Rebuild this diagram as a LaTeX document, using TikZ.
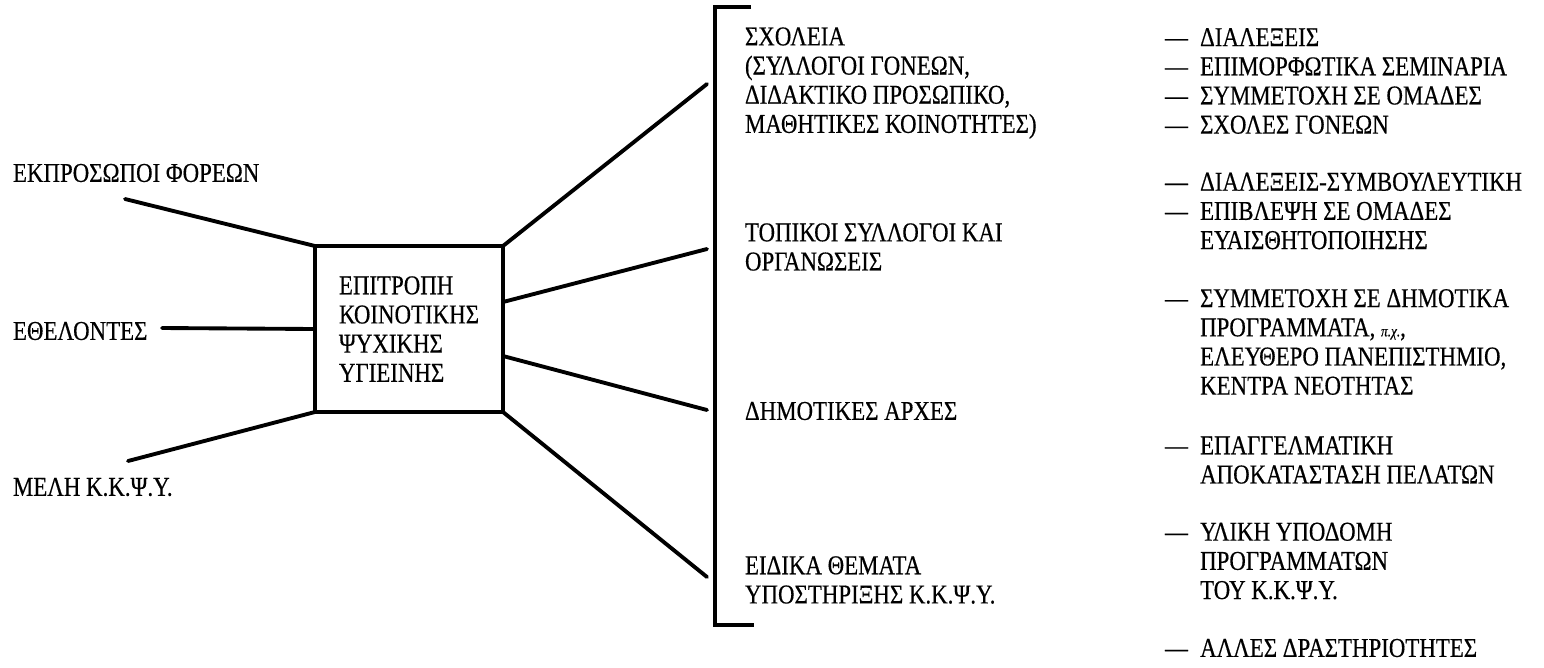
\documentclass[tikz,border=0pt]{standalone}
\usepackage{fontspec}
\setmainfont[FakeStretch=0.84,FakeBold=0.4]{Liberation Serif}
\usetikzlibrary{positioning}
\newcommand{\dsh}{—\hspace{0.45em}}
\newcommand{\ind}{\hphantom{\dsh}}

\begin{document}
\begin{tikzpicture}[x=0.02cm, y=-0.02cm,
  font=\fontsize{15.5pt}{16.6pt}\selectfont,
  lbl/.style={inner sep=0pt, outer sep=0pt, align=left, anchor=west},
  hubbox/.style={draw, line width=2pt, outer sep=0pt, align=left,
                 minimum width=3.76cm, minimum height=3.32cm},
  link/.style={line width=2.2pt, line cap=round},
  bracketline/.style={line width=1.8pt}
]
\useasboundingbox (0,0) rectangle (1544,667);
\node[hubbox] (hub) at (409,329) {ΕΠΙΤΡΟΠΗ\\ΚΟΙΝΟΤΙΚΗΣ\\ΨΥΧΙΚΗΣ\\ΥΓΙΕΙΝΗΣ};
\node[lbl] (reps)    at (13,173) {ΕΚΠΡΟΣΩΠΟΙ ΦΟΡΕΩΝ};
\node[lbl] (vols)    at (13,331) {ΕΘΕΛΟΝΤΕΣ};
\node[lbl] (members) at (13,487) {ΜΕΛΗ Κ.Κ.Ψ.Υ.};
\coordinate (repsend) at (125,199);
\coordinate (volsend) at (162,328);
\coordinate (membend) at (128,461);
\draw[link] (repsend) -- (hub.north west);
\draw[link] (volsend) -- (hub.west);
\draw[link] (membend) -- (hub.south west);
\draw[bracketline] (751,7) -- (715,7) -- (715,625) -- (754,625);
\node[lbl] (schools) at (745,83)  {ΣΧΟΛΕΙΑ\\(ΣΥΛΛΟΓΟΙ ΓΟΝΕΩΝ,\\ΔΙΔΑΚΤΙΚΟ ΠΡΟΣΩΠΙΚΟ,\\ΜΑΘΗΤΙΚΕΣ ΚΟΙΝΟΤΗΤΕΣ)};
\node[lbl] (locals)  at (745,247) {ΤΟΠΙΚΟΙ ΣΥΛΛΟΓΟΙ ΚΑΙ\\ΟΡΓΑΝΩΣΕΙΣ};
\node[lbl] (munic)   at (745,411) {ΔΗΜΟΤΙΚΕΣ ΑΡΧΕΣ};
\node[lbl] (special) at (745,580) {ΕΙΔΙΚΑ ΘΕΜΑΤΑ\\ΥΠΟΣΤΗΡΙΞΗΣ Κ.Κ.Ψ.Υ.};
\coordinate (schend) at (707,84);
\coordinate (locend) at (707,249);
\coordinate (munend) at (707,410);
\coordinate (spcend) at (707,577);
\draw[link] (hub.north east) -- (schend);
\draw[link] ([yshift=0.54cm]hub.east) -- (locend);
\draw[link] ([yshift=-0.54cm]hub.east) -- (munend);
\draw[link] (hub.south east) -- (spcend);
\node[lbl] (actsA) at (1165,81)  {\dsh ΔΙΑΛΕΞΕΙΣ\\\dsh ΕΠΙΜΟΡΦΩΤΙΚΑ ΣΕΜΙΝΑΡΙΑ\\\dsh ΣΥΜΜΕΤΟΧΗ ΣΕ ΟΜΑΔΕΣ\\\dsh ΣΧΟΛΕΣ ΓΟΝΕΩΝ};
\node[lbl] (actsB) at (1165,211) {\dsh ΔΙΑΛΕΞΕΙΣ-ΣΥΜΒΟΥΛΕΥΤΙΚΗ\\\dsh ΕΠΙΒΛΕΨΗ ΣΕ ΟΜΑΔΕΣ\\\ind ΕΥΑΙΣΘΗΤΟΠΟΙΗΣΗΣ};
\node[lbl] (actsC) at (1165,342) {\dsh ΣΥΜΜΕΤΟΧΗ ΣΕ ΔΗΜΟΤΙΚΑ\\\ind ΠΡΟΓΡΑΜΜΑΤΑ, {\small\itshape π.χ.},\\\ind ΕΛΕΥΘΕΡΟ ΠΑΝΕΠΙΣΤΗΜΙΟ,\\\ind ΚΕΝΤΡΑ ΝΕΟΤΗΤΑΣ};
\node[lbl] (actsD) at (1165,460) {\dsh ΕΠΑΓΓΕΛΜΑΤΙΚΗ\\\ind ΑΠΟΚΑΤΑΣΤΑΣΗ ΠΕΛΑΤΩΝ};
\node[lbl] (actsE) at (1165,561) {\dsh ΥΛΙΚΗ ΥΠΟΔΟΜΗ\\\ind ΠΡΟΓΡΑΜΜΑΤΩΝ\\\ind ΤΟΥ Κ.Κ.Ψ.Υ.};
\node[lbl] (actsF) at (1165,648) {\dsh ΑΛΛΕΣ ΔΡΑΣΤΗΡΙΟΤΗΤΕΣ};
\end{tikzpicture}
\end{document}
